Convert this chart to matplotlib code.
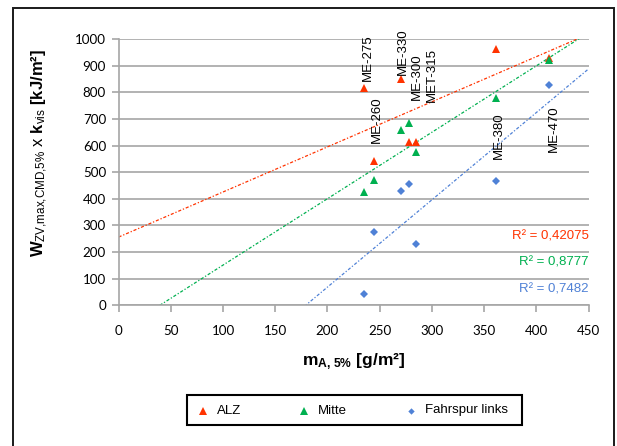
import numpy as np
import matplotlib
matplotlib.use("Agg")
import matplotlib.pyplot as plt
from matplotlib.patches import Rectangle
from matplotlib.lines import Line2D

plt.rcParams['font.family'] = ['Liberation Sans', 'DejaVu Sans']
plt.rcParams['mathtext.fontset'] = 'custom'
plt.rcParams['mathtext.rm'] = 'Liberation Sans'
plt.rcParams['mathtext.bf'] = 'Liberation Sans:bold'
plt.rcParams['mathtext.it'] = 'Liberation Sans:italic'

# Surface mass m_A,5% [g/m²] per sample
mass = [235, 245, 270, 278, 285, 361, 412]
samples = ["ME-275", "ME-260", "ME-330", "ME-300", "MET-315", "ME-380", "ME-470"]

# W_ZV,max,CMD,5% x k_vis [kJ/m²] per position
alz = [817, 540, 849, 614, 614, 962, 930]
mitte = [427, 469, 658, 684, 577, 777, 921]
fahrspur = [42, 276, 430, 454, 231, 466, 827]

r2_labels = ["R² = 0,42075", "R² = 0,8777", "R² = 0,7482"]

# where each sample name sits (x, bottom of the rotated text)
label_pos = {
    "ME-275": (238.8, 842),
    "ME-260": (247.5, 609),
    "ME-330": (272.4, 865),
    "ME-300": (285.8, 771),
    "MET-315": (300.1, 765),
    "ME-380": (364.3, 549),
    "ME-470": (417.0, 577),
}

RED = '#FF3300'
GREEN = '#00B050'
BLUE = '#4F81D6'
GRID = '#A6A6A6'

W, H = 617, 446
fig = plt.figure(figsize=(W / 100, H / 100), dpi=100)

# outer chart frame
fig.add_artist(Rectangle((12.5 / W, -0.05), (614 - 12.5) / W, 1.05 - 7.5 / H,
                         transform=fig.transFigure, fill=False,
                         edgecolor='#1a1a1a', linewidth=1.4))

ax = fig.add_axes([118.6 / W, 1 - 305.3 / H, (588.5 - 118.6) / W, (305.3 - 39) / H])
ax.set_xlim(0, 450)
ax.set_ylim(0, 1000)
ax.set_xticks(np.arange(0, 451, 50))
ax.set_yticks(np.arange(0, 1001, 100))
ax.yaxis.grid(True, color=GRID, linewidth=1.2)
ax.set_axisbelow(True)
for s in ['top', 'right']:
    ax.spines[s].set_visible(False)
for s in ['left', 'bottom']:
    ax.spines[s].set_color(GRID)
    ax.spines[s].set_linewidth(1.2)
ax.tick_params(axis='both', colors=GRID, length=5, width=1.2, labelcolor='black',
               labelsize=9.6, pad=4)
for lab in ax.get_xticklabels() + ax.get_yticklabels():
    lab.set_fontfamily(['Lato', 'DejaVu Sans'])
ax.tick_params(axis='x', pad=9)

series = [
    (alz, RED, '^', 6, "ALZ"),
    (mitte, GREEN, '^', 6, "Mitte"),
    (fahrspur, BLUE, 'D', 3.8, "Fahrspur links"),
]

xs = np.array(mass, dtype=float)
xline = np.linspace(0, 450, 200)
for vals, col, mk, ms, name in series:
    ys = np.array(vals, dtype=float)
    k, d = np.polyfit(xs, ys, 1)
    ax.plot(xline, k * xline + d, color=col, linewidth=0.9,
            linestyle=(0, (2.5, 1.5, 1, 1.5)), zorder=2)
    ax.plot(xs, ys, linestyle='none', marker=mk, markersize=ms,
            color=col, markeredgewidth=0, zorder=3)

for name in samples:
    lx, ly = label_pos[name]
    ax.text(lx, ly, name, rotation=90, ha='center', va='bottom',
            fontsize=9.5, color='black', zorder=4)

for txt, col, yv in zip(r2_labels, [RED, GREEN, BLUE], [260, 162, 61]):
    ax.text(450, yv, txt, ha='right', va='center', color=col, fontsize=9.5)

fig.text(40 / W, 1 - 153 / H,
         r'$\mathbf{W}_{\mathrm{ZV{,}max{,}CMD{,}5\%}}\ \mathrm{x}\ \mathbf{k}_{\mathrm{vis}}\ \mathbf{[kJ/m²]}$',
         rotation=90, ha='center', va='center', fontsize=12)
fig.text(354 / W, 1 - 362 / H,
         r'$\mathbf{m}_{\mathbf{A{,}\ 5\%}}\ \mathbf{[g/m²]}$',
         ha='center', va='center', fontsize=12.5)

# legend box
fig.add_artist(Rectangle((187.3 / W, 1 - 425 / H), (521.7 - 187.3) / W, 30 / H,
                         transform=fig.transFigure, fill=False,
                         edgecolor='black', linewidth=1.5))
for (vals, col, mk, ms, name), mx in zip(series, [202.7, 304.3, 411]):
    fig.add_artist(Line2D([mx / W], [1 - 410.5 / H], marker=mk, markersize=ms * 0.85,
                          color=col, markeredgewidth=0, linestyle='none',
                          transform=fig.transFigure))
    fig.text((mx + 14) / W, 1 - 410.5 / H, name, ha='left', va='center', fontsize=9.5)

fig.savefig('out.png', dpi=100)
